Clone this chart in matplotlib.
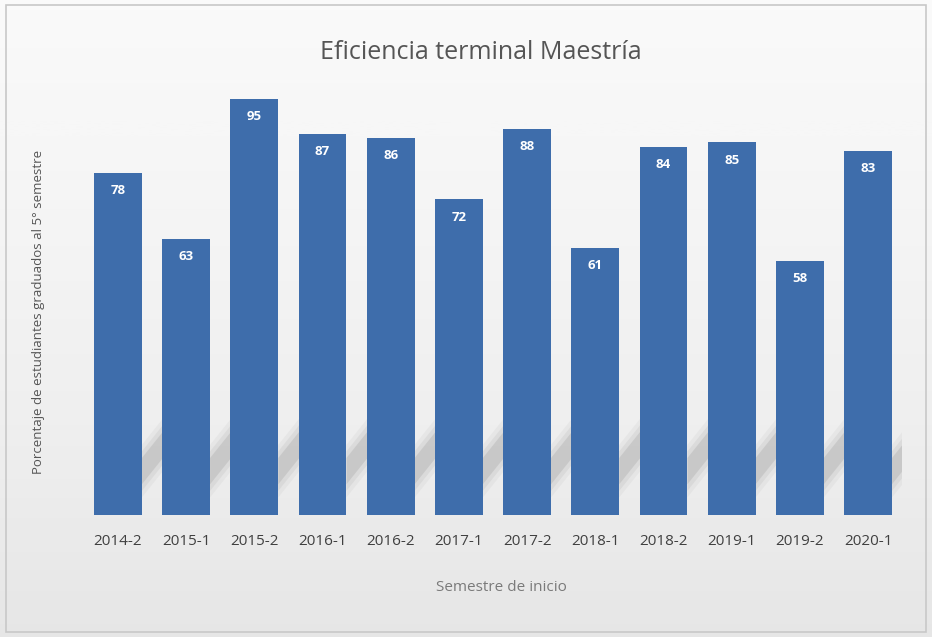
import numpy as np
import matplotlib.pyplot as plt
from matplotlib.patches import Rectangle, Polygon

semestres = ["2014-2", "2015-1", "2015-2", "2016-1", "2016-2", "2017-1",
             "2017-2", "2018-1", "2018-2", "2019-1", "2019-2", "2020-1"]
porcentajes = [78, 63, 95, 87, 86, 72, 88, 61, 84, 85, 58, 83]

plt.rcParams['font.family'] = ['Open Sans', 'DejaVu Sans']

fig = plt.figure(figsize=(9.32, 6.37), dpi=100)

# fondo degradado
bg = fig.add_axes([0, 0, 1, 1], zorder=-10)
grad = np.linspace(0, 1, 256).reshape(-1, 1)
bg.imshow(grad, aspect='auto', cmap='Greys', vmin=-0.3, vmax=7,
          extent=[0, 1, 0, 1], origin='upper')
bg.set_xlim(0, 1)
bg.set_ylim(0, 1)
bg.axis('off')
bg.add_patch(Rectangle((0.006, 0.008), 0.988, 0.984, fill=False,
                       edgecolor='#c8c8c8', lw=1.2, transform=bg.transAxes))

ax = fig.add_axes([0.090, 0.1915, 0.878, 0.688])
ax.patch.set_alpha(0)
x = np.arange(len(semestres))
ancho = 0.7

# sombra diagonal detras de las barras (suave, en capas)
for xi in x:
    xr = xi + ancho / 2
    for grow, a in [(3.0, 0.08), (1.5, 0.12), (0.0, 0.22)]:
        pts = [(xr, 7 - grow), (xr, 13 + grow),
               (xr + 0.36, 20 + grow), (xr + 0.36, 14 - grow)]
        ax.add_patch(Polygon(pts, closed=True, facecolor='#8c8c8c', alpha=a,
                             edgecolor='none', zorder=1))

ax.bar(x, porcentajes, width=ancho, color='#3e6dab', zorder=3)
for xi, v in zip(x, porcentajes):
    ax.text(xi, v - 4, str(v), ha='center', va='center', color='white',
            fontsize=9.5, fontweight='bold', zorder=4)

ax.set_xlim(-0.5, len(semestres) - 0.5)
ax.set_ylim(0, 100)
ax.set_xticks(x)
ax.set_xticklabels(semestres, fontsize=11, color='#404040')
ax.tick_params(axis='x', length=0, pad=14)
ax.set_yticks([])
for s in ax.spines.values():
    s.set_visible(False)

fig.text(0.516, 0.918, "Eficiencia terminal Maestría", ha='center', va='center',
         fontsize=18, color='#555555')
fig.text(0.538, 0.078, "Semestre de inicio", ha='center', va='center',
         fontsize=11, color='#7a7a7a')
fig.text(0.041, 0.51, "Porcentaje de estudiantes graduados al 5° semestre",
         rotation=90, ha='center', va='center', fontsize=9.5, color='#555555')

fig.savefig("out.png", dpi=100)
